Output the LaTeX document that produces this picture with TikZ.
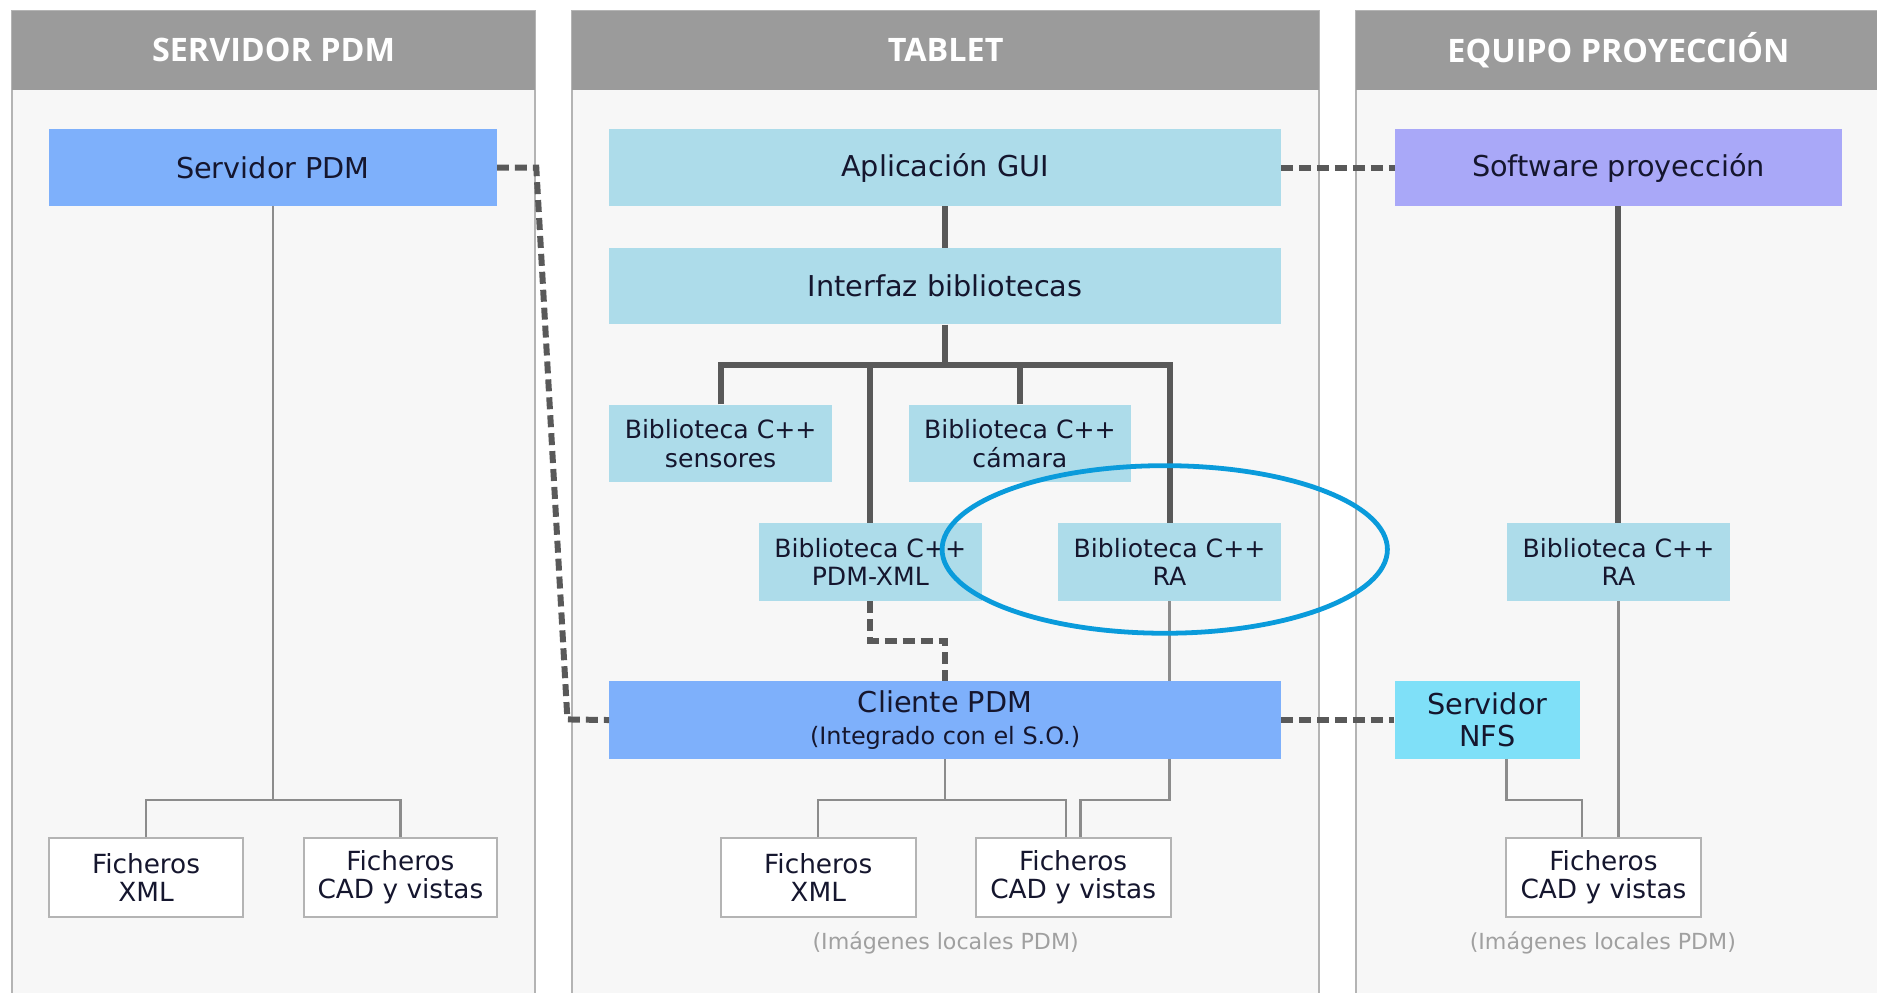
\documentclass[tikz,border=0pt]{standalone}
\usepackage{fontspec}
\setmainfont{DejaVu Sans}
\newfontfamily\hdrfont{Open Sans}
\definecolor{hdrgray}{HTML}{9B9B9B}
\definecolor{panelbg}{HTML}{F7F7F7}
\definecolor{panelline}{HTML}{B4B4B4}
\definecolor{pdmblue}{HTML}{7EB0FB}
\definecolor{libblue}{HTML}{ADDCEA}
\definecolor{lavender}{HTML}{A9A8F8}
\definecolor{nfscyan}{HTML}{7FE0F8}
\definecolor{txtdark}{HTML}{15162E}
\definecolor{conn}{HTML}{595959}
\definecolor{thinconn}{HTML}{8C8C8C}
\definecolor{hlblue}{HTML}{0A9BDB}
\definecolor{notegray}{HTML}{A0A0A0}
\begin{document}
\begin{tikzpicture}[x=1pt,y=-1pt,
  box/.style={rectangle, inner sep=0pt, align=center, text=txtdark, font=\fontsize{24}{27}\selectfont},
  libbox/.style={box, fill=libblue, minimum width=186, minimum height=65, font=\fontsize{21}{24}\selectfont},
  filebox/.style={box, fill=white, draw=panelline, line width=1.5pt, minimum width=162, minimum height=66, font=\fontsize{22}{23.5}\selectfont},
  hdrtext/.style={inner sep=0pt, text=white, font=\hdrfont\bfseries\fontsize{27}{30}\selectfont},
  thk/.style={draw=conn, line width=5pt},
  thn/.style={draw=thinconn, line width=2pt},
  dsh/.style={draw=conn, line width=5pt, dash pattern=on 10pt off 5pt},
  note/.style={inner sep=0pt, text=notegray, font=\fontsize{18.5}{20}\selectfont}]
\useasboundingbox (0,0) rectangle (1568,829);
\clip (0,0) rectangle (1568,829);
\fill[white] (0,0) rectangle (1568,829);
% panels
\fill[panelbg] (10,9) rectangle (447,840);
\fill[panelbg] (478,9) rectangle (1102,840);
\fill[panelbg] (1133,9) rectangle (1580,840);
\draw[panelline, line width=1.5pt] (10,840) -- (10,9) -- (447,9) -- (447,840);
\draw[panelline, line width=1.5pt] (478,840) -- (478,9) -- (1102,9) -- (1102,840);
\draw[panelline, line width=1.5pt] (1133,840) -- (1133,9) -- (1580,9);
\fill[hdrgray] (10,9) rectangle (447,75);
\fill[hdrgray] (478,9) rectangle (1102,75);
\fill[hdrgray] (1133,9) rectangle (1580,75);
\node[hdrtext] (h1) at (228.5,42) {SERVIDOR PDM};
\node[hdrtext] (h2) at (790,42) {TABLET};
\node[hdrtext] (h3) at (1352,42) {EQUIPO PROYECCIÓN};
% panel 1
\node[box, fill=pdmblue, minimum width=374, minimum height=64] (srv) at (228,140) {Servidor PDM};
\node[filebox] (sxml) at (122,733) {Ficheros\\XML};
\node[filebox, minimum width=161] (scad) at (334.5,733) {Ficheros\\CAD y vistas};
% panel 2
\node[box, fill=libblue, minimum width=561, minimum height=64] (apl) at (789.5,140) {Aplicación GUI};
\node[box, fill=libblue, minimum width=561, minimum height=64] (intf) at (789.5,239) {Interfaz bibliotecas};
\node[libbox] (sens) at (602,370.5) {Biblioteca C++\\sensores};
\node[libbox] (cam) at (852,370.5) {Biblioteca C++\\cámara};
\node[libbox] (pdmxml) at (727,469.5) {Biblioteca C++\\PDM-XML};
\node[libbox] (ra) at (977,469.5) {Biblioteca C++\\RA};
\node[box, fill=pdmblue, minimum width=561, minimum height=65] (cli) at (789.5,601.5)
  {Cliente PDM\\[-1pt]{\fontsize{20}{22}\selectfont(Integrado con el S.O.)}};
\node[filebox, minimum width=163] (txml) at (683.5,733) {Ficheros\\XML};
\node[filebox, minimum width=163] (tcad) at (896.5,733) {Ficheros\\CAD y vistas};
\node[note] (tnote) at (790,788) {(Imágenes locales PDM)};
% panel 3
\node[box, fill=lavender, minimum width=373, minimum height=64] (sw) at (1352,140) {Software proyección};
\node[libbox] (rap) at (1352,469.5) {Biblioteca C++\\RA};
\node[box, fill=nfscyan, minimum width=155, minimum height=65] (nfs) at (1242.5,601.5) {Servidor\\NFS};
\node[filebox, minimum width=163] (pcad) at (1339.5,733) {Ficheros\\CAD y vistas};
\node[note] (pnote) at (1339,788) {(Imágenes locales PDM)};
% thick connectors
\draw[thk] (apl.south) -- (intf.north);
\draw[thk] (intf.south) -- ++(0,34) coordinate (j);
\draw[thk] (sens.north) -- (sens.north |- j) -- (ra.north |- j) -- (ra.north);
\draw[thk] (pdmxml.north) -- (pdmxml.north |- j);
\draw[thk] (cam.north) -- (cam.north |- j);
\draw[thk] (sw.south) -- (rap.north);
% thin connectors
\draw[thn] (srv.south) -- ++(0,496) coordinate (sj);
\draw[thn] (sxml.north) |- (sj) -| (scad.north);
\draw[thn] (cli.south) -- ++(0,34) coordinate (tj);
\draw[thn] (txml.north) |- (tj) -| ([xshift=-6pt]tcad.north);
\draw[thn] (ra.south) -- (ra.south |- cli.north);
\draw[thn] (ra.south |- cli.south) -- ++(0,34) -| ([xshift=6pt]tcad.north);
\draw[thn] (rap.south) -- (rap.south |- pcad.north);
\draw[thn] ([xshift=16pt]nfs.south) -- ++(0,34) -| ([xshift=-18pt]pcad.north);
% dashed connectors
\draw[dsh] (srv.east) -- (448,140) -- (474,601) -- (cli.west);
\draw[dsh] (apl.east) -- (sw.west);
\draw[dsh] (cli.east) -- (nfs.west);
\draw[dsh] (pdmxml.south) -- ++(0,33) -| (cli.north);
% highlight
\draw[hlblue, line width=4pt] (973,459) ellipse [x radius=186, y radius=70];
\end{tikzpicture}
\end{document}
